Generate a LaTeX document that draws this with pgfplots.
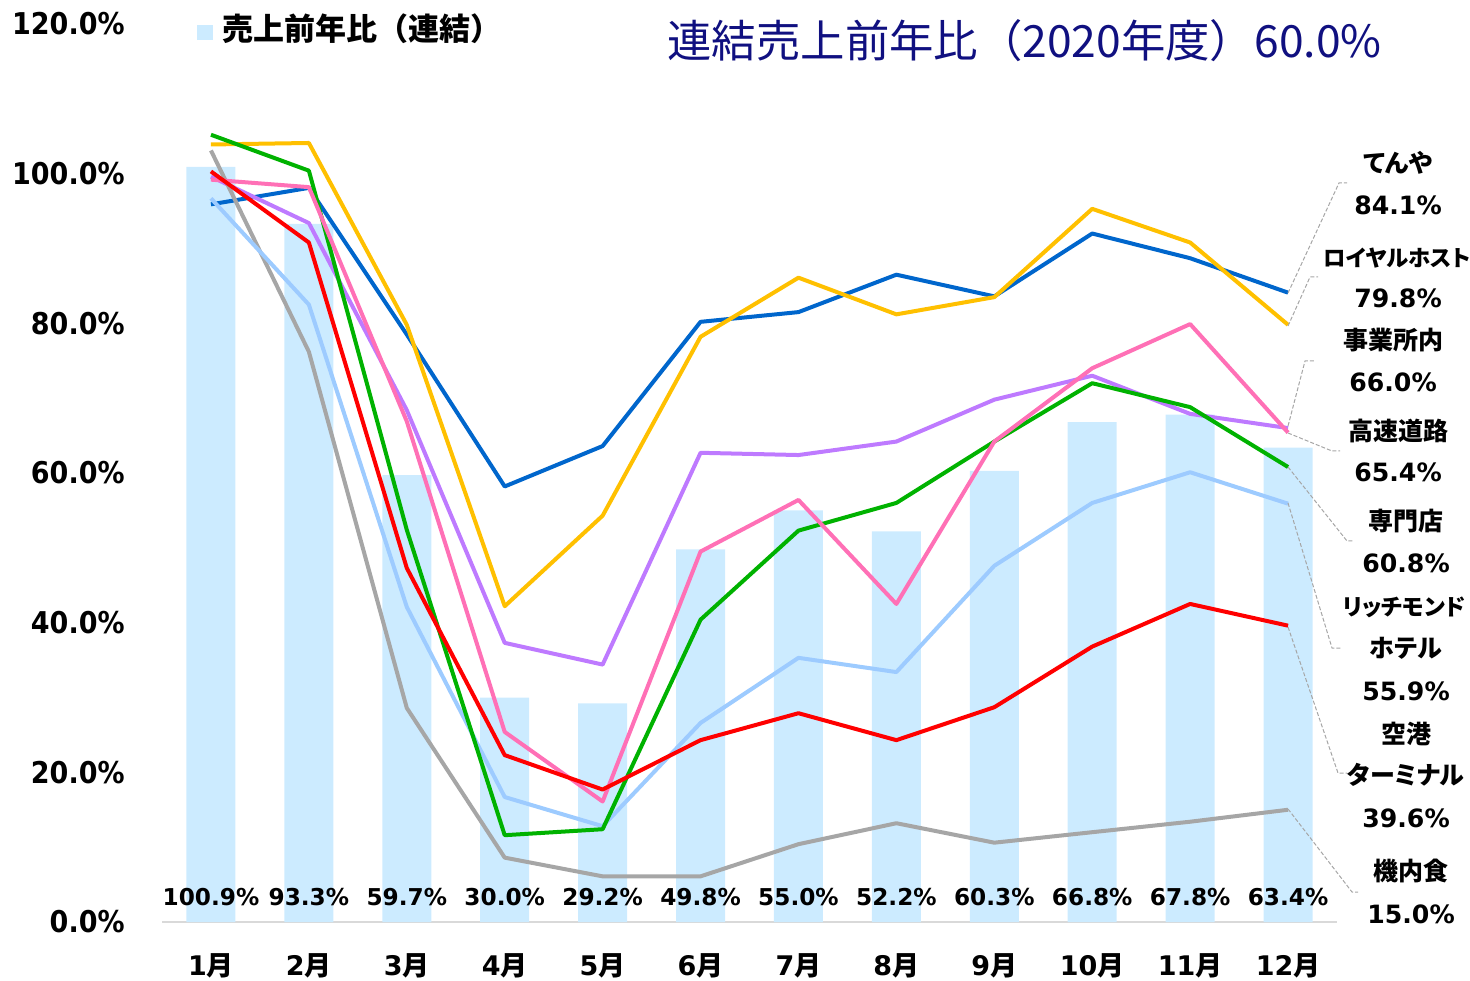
\documentclass[border=0pt]{standalone}
\usepackage{fontspec}
\setmainfont{DejaVu Sans}
\newfontfamily\jp{Noto Sans CJK JP}
\newfontfamily\jpp{Noto Sans CJK JP}[RawFeature=+palt]
\newfontfamily\cond{DejaVu Sans Condensed}
\usepackage{pgfplots}
\usepackage{pgfplotstable}
\pgfplotsset{compat=1.18}

\definecolor{barblue}{RGB}{204,235,255}
\definecolor{cTenya}{RGB}{0,102,204}
\definecolor{cRoyal}{RGB}{255,192,0}
\definecolor{cJigyo}{RGB}{190,122,255}
\definecolor{cKosoku}{RGB}{255,112,182}
\definecolor{cSenmon}{RGB}{0,178,0}
\definecolor{cRich}{RGB}{157,203,255}
\definecolor{cKuko}{RGB}{255,0,0}
\definecolor{cKinai}{RGB}{166,166,166}
\definecolor{gridc}{RGB}{217,217,217}
\definecolor{titlec}{RGB}{16,16,128}

\newcommand\tsuki{{\jp 月}}

% month index, consolidated bar, then one column per business
\pgfplotstableread{
m bar tenya royal jigyo kosoku senmon rich kuko kinai
0 100.9 95.9 103.9 99.6 99.2 105.2 96.7 100.3 103.1
1 93.3 98.1 104.1 93.4 98.2 100.4 82.5 90.8 76.2
2 59.7 78.5 79.8 68.4 66.9 52.4 42.1 47.3 28.6
3 30.0 58.2 42.2 37.3 25.4 11.6 16.7 22.3 8.6
4 29.2 63.6 54.3 34.4 16.1 12.4 12.8 17.7 6.1
5 49.8 80.2 78.2 62.7 49.5 40.4 26.6 24.3 6.1
6 55.0 81.5 86.1 62.4 56.4 52.3 35.3 27.9 10.4
7 52.2 86.5 81.2 64.2 42.5 56.0 33.4 24.3 13.2
8 60.3 83.6 83.5 69.8 64.2 64.2 47.6 28.7 10.6
9 66.8 92.0 95.3 73.0 74.0 72.0 56.0 36.8 12.0
10 67.8 88.7 90.8 67.9 79.9 68.8 60.1 42.5 13.4
11 63.4 84.1 79.8 66.0 65.4 60.8 55.9 39.6 15.0
}\data

\begin{document}
\begin{tikzpicture}
\path[use as bounding box] (0,0) rectangle (735pt,490pt);
\begin{axis}[
    at={(81pt,29pt)}, anchor=south west,
    scale only axis, width=587.5pt, height=449pt,
    xmin=-0.5, xmax=11.5, ymin=0, ymax=120,
    clip=false,
    axis x line*=bottom, axis y line=none,
    x axis line style={draw=gridc, line width=0.75pt},
    xtick={0,...,11}, major tick length=0pt,
    xticklabels={1\tsuki,2\tsuki,3\tsuki,4\tsuki,5\tsuki,6\tsuki,7\tsuki,8\tsuki,9\tsuki,10\tsuki,11\tsuki,12\tsuki},
    xticklabel style={font=\bfseries\fontsize{13.5}{13.5}\selectfont, anchor=base, inner sep=0pt, yshift=-26.5pt},
    ytick={0,20,...,120},
    ymajorgrids, yticklabels={},
    grid style={draw=gridc, line width=0.75pt, dash pattern=on 4pt off 2.5pt},
    line join=round,
]
\addplot[ybar, bar width=24.5pt, fill=barblue, draw=none] table[x=m, y=bar] {\data};
\addplot[cTenya, line width=2pt] table[x=m, y=tenya] {\data};
\addplot[cRoyal, line width=2pt] table[x=m, y=royal] {\data};
\addplot[cJigyo, line width=2pt] table[x=m, y=jigyo] {\data};
\addplot[cKinai, line width=2pt] table[x=m, y=kinai] {\data};
\addplot[cRich, line width=2pt] table[x=m, y=rich] {\data};
\addplot[cSenmon, line width=2pt] table[x=m, y=senmon] {\data};
\addplot[cKosoku, line width=2pt] table[x=m, y=kosoku] {\data};
\addplot[cKuko, line width=2pt] table[x=m, y=kuko] {\data};

% y tick labels
\begin{scope}[every node/.style={anchor=east, inner sep=0pt, font=\cond\bfseries\fontsize{15}{15}\selectfont}]
\node at ([xshift=-18.5pt]axis cs:-0.5,0) {0.0\%};
\node at ([xshift=-18.5pt]axis cs:-0.5,20) {20.0\%};
\node at ([xshift=-18.5pt]axis cs:-0.5,40) {40.0\%};
\node at ([xshift=-18.5pt]axis cs:-0.5,60) {60.0\%};
\node at ([xshift=-18.5pt]axis cs:-0.5,80) {80.0\%};
\node at ([xshift=-18.5pt]axis cs:-0.5,100) {100.0\%};
\node at ([xshift=-18.5pt]axis cs:-0.5,120) {120.0\%};
\end{scope}

% consolidated values along the bottom
\begin{scope}[every node/.style={anchor=base, inner sep=0pt, font=\bfseries\fontsize{11.6}{11.6}\selectfont}]
\node at (axis cs:0,2.27) {100.9\%};
\node at (axis cs:1,2.27) {93.3\%};
\node at (axis cs:2,2.27) {59.7\%};
\node at (axis cs:3,2.27) {30.0\%};
\node at (axis cs:4,2.27) {29.2\%};
\node at (axis cs:5,2.27) {49.8\%};
\node at (axis cs:6,2.27) {55.0\%};
\node at (axis cs:7,2.27) {52.2\%};
\node at (axis cs:8,2.27) {60.3\%};
\node at (axis cs:9,2.27) {66.8\%};
\node at (axis cs:10,2.27) {67.8\%};
\node at (axis cs:11,2.27) {63.4\%};
\end{scope}
\end{axis}

% annotations in pixel units of the reference (origin top left)
\begin{scope}[shift={(0pt,490pt)}, x=0.5pt, y=-0.5pt]
\tikzset{lbl/.style={anchor=center, inner sep=0pt, text height=0.73em, text depth=0pt},
         nm/.style={lbl, font=\jpp\bfseries\fontsize{12.5}{12.5}\selectfont},
         pc/.style={lbl, font=\bfseries\fontsize{12.6}{12.6}\selectfont},
         lead/.style={draw=cKinai, line width=0.5pt, dash pattern=on 2pt off 1pt}}
% legend
\fill[barblue] (197,25) rectangle (213,40);
\node[lbl, anchor=west, font=\jp\bfseries\fontsize{15.5}{15.5}\selectfont] at (222,33) {売上前年比（連結）};
% title
\node[lbl, anchor=west, text=titlec, font=\jp\fontsize{22.2}{22.2}\selectfont] at (667,50) {連結売上前年比（2020年度）60.0\%};
% leader lines
\draw[lead] (1288,293) -- (1339,183) -- (1347,183);
\draw[lead] (1288,326) -- (1310,277) -- (1318,277);
\draw[lead] (1288,426) -- (1305,361) -- (1314,361);
\draw[lead] (1288,433) -- (1332,451) -- (1340,451);
\draw[lead] (1288,467) -- (1347,541) -- (1354,541);
\draw[lead] (1288,503) -- (1332,648) -- (1341,648);
\draw[lead] (1288,627) -- (1338,773) -- (1347,773);
\draw[lead] (1288,809) -- (1352,892) -- (1358,892);
% series labels
\node[nm] at (1398,165) {てんや};
\node[pc] at (1398,207) {84.1\%};
\node[nm, font=\jpp\bfseries\fontsize{11.2}{11.2}\selectfont] at (1397,259) {ロイヤルホスト};
\node[pc] at (1398,300) {79.8\%};
\node[nm] at (1393,342) {事業所内};
\node[pc] at (1393,384) {66.0\%};
\node[nm] at (1398,433) {高速道路};
\node[pc] at (1398,474) {65.4\%};
\node[nm] at (1406,523) {専門店};
\node[pc] at (1406,565) {60.8\%};
\node[nm, font=\jpp\bfseries\fontsize{11.4}{11.4}\selectfont] at (1404,608) {リッチモンド};
\node[nm] at (1406,650) {ホテル};
\node[pc] at (1406,693) {55.9\%};
\node[nm] at (1406,736) {空港};
\node[nm] at (1406,777) {ターミナル};
\node[pc] at (1406,820) {39.6\%};
\node[nm] at (1411,873) {機内食};
\node[pc] at (1411,916) {15.0\%};
\end{scope}
\end{tikzpicture}
\end{document}
